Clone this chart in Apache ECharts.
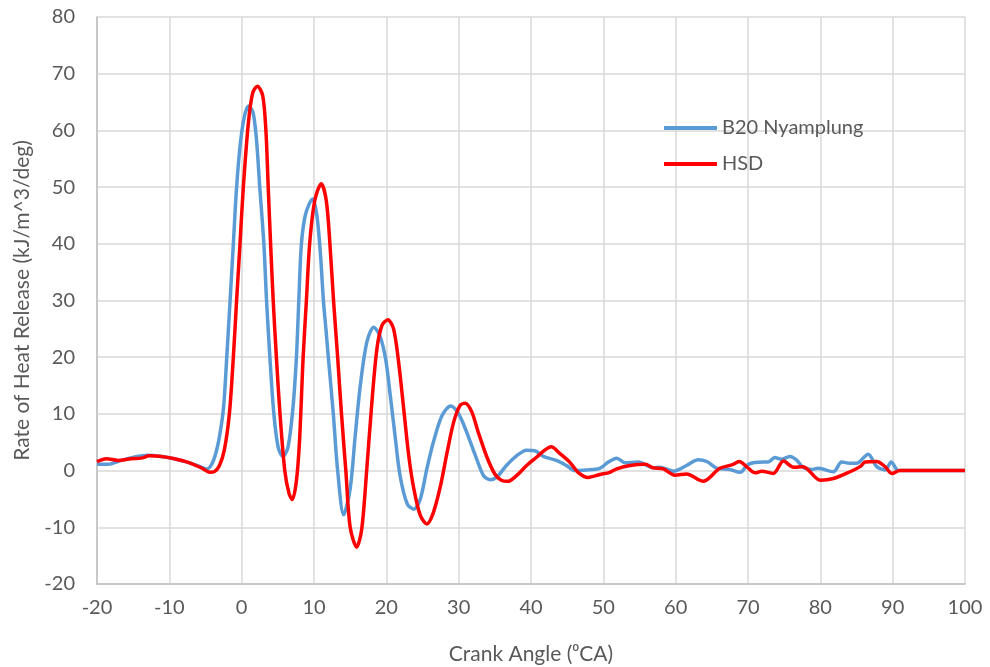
<!DOCTYPE html>
<html>
<head>
<meta charset="utf-8">
<script src="https://cdn.jsdelivr.net/npm/echarts@6/dist/echarts.min.js"></script>
<style>
  html, body { margin: 0; padding: 0; background: #fff; }
  #chart { width: 990px; height: 667px; }
</style>
</head>
<body>
<div id="chart"></div>
<script>
// Crank angle (deg) and rate of heat release (kJ/m^3/deg) for each fuel
const b20Angle = [-20, -18.5, -16.6, -14.8, -13, -11.1, -9.3, -7.5, -5.6, -4.8, -4.1, -3.5, -3.0, -2.5, -2.06, -1.6, -1.15, -0.7, -0.14, 0.46, 1.0, 1.6, 2.06, 2.5, 3.07, 3.44, 3.9, 4.45, 5.05, 5.7, 6.4, 7.1, 7.57, 7.9, 8.26, 8.85, 9.8, 10.4, 10.9, 11.3, 11.66, 11.98, 12.67, 13.27, 14.1, 15.0, 15.7, 16.4, 17.3, 18.25, 19.1, 19.9, 20.55, 21.2, 21.9, 22.9, 23.8, 24.7, 25.6, 26.5, 27.7, 28.9, 30.0, 31.1, 32.3, 33.45, 34.4, 35.3, 36.6, 38.0, 39.4, 40.55, 41.7, 43.5, 44.9, 46.05, 47.65, 49.5, 50.7, 51.85, 53, 54.85, 56.9, 57.8, 59.7, 61.5, 63.1, 64.3, 65.7, 67.5, 68.9, 70.05, 72.1, 72.8, 73.7, 74.6, 75.8, 76.7, 77.6, 78.8, 79.7, 81.8, 82.95, 84.1, 85.0, 86.6, 87.8, 88.95, 89.8, 90.6, 91, 95, 100];
const b20Rate = [1.1, 1.1, 1.8, 2.4, 2.7, 2.5, 2.1, 1.5, 0.6, 0.3, 1.2, 3.4, 6.5, 11.2, 20, 30, 40, 50, 58.2, 62.9, 64.3, 63, 58.2, 50, 40, 30, 20, 10, 4.1, 2.5, 4.1, 11.2, 20, 30, 40, 45.3, 47.9, 45, 38, 30, 24.8, 20, 10, 0, -7.8, -3.2, 6.2, 15, 22.6, 25.3, 23.8, 19.7, 13.2, 6.2, -0.9, -5.9, -6.8, -5, 0.3, 5, 9.7, 11.4, 10.0, 6.8, 2.7, -0.9, -1.6, -1.1, 0.9, 2.6, 3.6, 3.5, 2.5, 1.8, 0.9, 0, 0.1, 0.4, 1.5, 2.2, 1.4, 1.5, 0.5, 0.6, -0.1, 0.9, 1.9, 1.6, 0.4, 0.2, -0.3, 1.1, 1.5, 1.5, 2.3, 2.0, 2.5, 1.9, 0.6, 0.2, 0.4, -0.2, 1.5, 1.3, 1.3, 2.9, 0.7, 0.1, 1.5, 0.1, 0, 0, 0];

const hsdAngle = [-20, -18.7, -17.1, -15.3, -13.9, -12.75, -11.1, -9.3, -7.5, -5.6, -4.4, -3.8, -3.1, -2.4, -1.7, -1.15, -0.7, -0.23, 0.23, 0.92, 1.5, 2.16, 2.9, 3.35, 3.67, 4.0, 4.36, 4.8, 5.3, 5.96, 6.56, 7.0, 7.57, 8.0, 8.5, 8.95, 9.4, 10.1, 11.0, 11.7, 12.2, 12.7, 13.27, 13.8, 14.4, 15.0, 15.9, 16.6, 17.3, 18.0, 18.7, 19.4, 20.2, 21.0, 21.7, 22.4, 23.1, 23.8, 24.7, 25.6, 26.5, 27.5, 28.4, 29.3, 30.2, 30.9, 31.8, 32.7, 33.9, 35.0, 35.9, 36.8, 38.0, 39.4, 40.8, 41.9, 42.8, 44, 45.35, 46.5, 47.9, 49.5, 50.9, 51.85, 53.7, 55.8, 56.9, 58.3, 59.9, 61.5, 63.8, 66.1, 67.75, 68.8, 69.8, 71, 71.9, 73.5, 74.9, 76.3, 77.6, 80, 81.8, 84.1, 85.5, 86.2, 87.8, 88.95, 89.9, 91, 95, 100];
const hsdRate = [1.6, 2.1, 1.8, 2.1, 2.2, 2.6, 2.5, 2.1, 1.5, 0.5, -0.3, -0.2, 0.8, 3.6, 10, 20, 30, 40, 50, 61.2, 66.5, 67.8, 66.2, 60, 50, 40, 30, 20, 10, 0, -4.1, -5.1, -1.8, 5.3, 20, 30, 40, 47.6, 50.6, 47.6, 40, 30, 20, 10, 0, -10, -13.5, -10.3, 0.3, 12, 21.5, 25.6, 26.6, 25, 19.1, 10.9, 2.6, -3.2, -7.9, -9.4, -7.4, -2.6, 3.2, 8.5, 11.5, 11.9, 10.4, 6.8, 2.4, -0.6, -1.7, -1.9, -0.9, 0.9, 2.4, 3.6, 4.2, 3.0, 1.5, -0.3, -1.2, -0.7, -0.3, 0.3, 0.9, 1.1, 0.5, 0.3, -0.8, -0.6, -1.9, 0.4, 1.0, 1.6, 0.7, -0.4, -0.1, -0.5, 1.7, 0.6, 0.7, -1.7, -1.4, -0.2, 0.7, 1.5, 1.6, 0.7, -0.5, 0, 0, 0];

const seriesNames = ['B20 Nyamplung', 'HSD'];
const xTicks = { min: -20, max: 100, step: 10 };
const yTicks = { min: -20, max: 80, step: 10 };

const pairs = (xs, ys) => xs.map((x, i) => [x, ys[i]]);

const font = 'Lato, "Open Sans", sans-serif';
const textGrey = '#595959';

const chart = echarts.init(document.getElementById('chart'), null, { renderer: 'canvas' });

chart.setOption({
  animation: false,
  backgroundColor: '#ffffff',
  grid: { left: 97, right: 25, top: 17, bottom: 83, containLabel: false, outerBoundsMode: 'none' },
  legend: {
    orient: 'vertical',
    left: 659,
    top: 113,
    itemWidth: 53,
    itemHeight: 4,
    itemGap: 16,
    icon: 'rect',
    data: seriesNames,
    textStyle: { fontFamily: font, fontSize: 20, color: textGrey, lineHeight: 20 }
  },
  xAxis: {
    type: 'value',
    min: xTicks.min,
    max: xTicks.max,
    interval: xTicks.step,
    name: 'Crank Angle (\u2070CA)',
    nameLocation: 'middle',
    nameGap: 60,
    nameTextStyle: { fontFamily: font, fontSize: 21, color: textGrey },
    axisLine: { onZero: false, lineStyle: { color: '#BFBFBF', width: 1.5 } },
    axisTick: { show: false },
    axisLabel: { fontFamily: font, fontSize: 20, color: textGrey, margin: 14 },
    splitLine: { show: true, lineStyle: { color: '#D9D9D9', width: 1.5 } }
  },
  yAxis: {
    type: 'value',
    min: yTicks.min,
    max: yTicks.max,
    interval: yTicks.step,
    name: 'Rate of Heat Release (kJ/m^3/deg)',
    nameLocation: 'middle',
    nameGap: 64,
    nameTextStyle: { fontFamily: font, fontSize: 21, color: textGrey },
    axisLine: { show: true, onZero: false, lineStyle: { color: '#BFBFBF', width: 1.5 } },
    axisTick: { show: false },
    axisLabel: { fontFamily: font, fontSize: 20, color: textGrey, margin: 22 },
    splitLine: { show: true, lineStyle: { color: '#D9D9D9', width: 1.5 } }
  },
  series: [
    {
      name: seriesNames[0],
      type: 'line',
      data: pairs(b20Angle, b20Rate),
      smooth: 0.3,
      showSymbol: false,
      lineStyle: { color: '#5B9BD5', width: 3.5 },
      itemStyle: { color: '#5B9BD5' },
      z: 2
    },
    {
      name: seriesNames[1],
      type: 'line',
      data: pairs(hsdAngle, hsdRate),
      smooth: 0.3,
      showSymbol: false,
      lineStyle: { color: '#FF0000', width: 3.5 },
      itemStyle: { color: '#FF0000' },
      z: 3
    }
  ]
});
</script>
</body>
</html>
